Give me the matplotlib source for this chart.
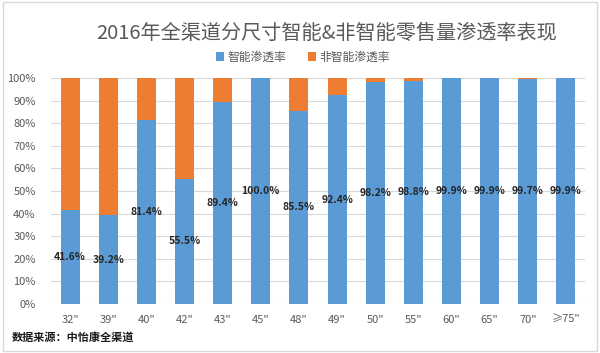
import matplotlib.pyplot as plt
import numpy as np
from matplotlib.patches import Rectangle

plt.rcParams['font.family'] = ['Noto Sans CJK SC', 'DejaVu Sans']

sizes = ['32"', '39"', '40"', '42"', '43"', '45"', '48"', '49"', '50"', '55"', '60"', '65"', '70"', '≥75"']
smart = [41.6, 39.2, 81.4, 55.5, 89.4, 100.0, 85.5, 92.4, 98.2, 98.8, 99.9, 99.9, 99.7, 99.9]
non_smart = [100 - v for v in smart]

blue = '#5B9BD5'
orange = '#ED7D31'

fig = plt.figure(figsize=(6, 3.53), dpi=100)
ax = fig.add_axes([51 / 600, 1 - 304 / 353, 534 / 600, 226 / 353])

x = np.arange(len(sizes))
ax.bar(x, smart, width=0.5, color=blue, label='智能渗透率', zorder=3)
ax.bar(x, non_smart, width=0.5, bottom=smart, color=orange, label='非智能渗透率', zorder=3)

for xi, v in zip(x, smart):
    ax.text(xi, v / 2, '%.1f%%' % v, ha='center', va='center',
            fontsize=7.5, fontweight='bold', color='#262626', zorder=4)

ax.set_xlim(-0.5, len(sizes) - 0.5)
ax.set_ylim(0, 100)
ax.set_yticks(np.arange(0, 101, 10))
ax.set_yticklabels(['%d%%' % t for t in range(0, 101, 10)])
ax.set_xticks(x)
ax.set_xticklabels(sizes)
ax.tick_params(axis='both', length=0, labelsize=8, colors='#595959')
ax.tick_params(axis='y', pad=11)
ax.tick_params(axis='x', pad=8)
ax.grid(axis='y', color='#D9D9D9', linewidth=0.8, zorder=0)
for s in ax.spines.values():
    s.set_visible(False)

fig.text(327 / 600, 1 - 33 / 353, '2016年全渠道分尺寸智能&非智能零售量渗透率表现',
         ha='center', va='center', fontsize=14.5, color='#595959')
fig.legend(loc='center', bbox_to_anchor=(303 / 600, 1 - 57 / 353), ncol=2,
           frameon=False, fontsize=8.5, handlelength=0.7, handleheight=0.7,
           handletextpad=0.3, columnspacing=1.8, labelcolor='#595959')
fig.text(12 / 600, 1 - 337 / 353, '数据来源：中怡康全渠道', ha='left', va='center',
         fontsize=8, fontweight='bold', color='#1a1a1a')

fig.patches.append(Rectangle((0.005, 0.005), 0.99, 0.99, transform=fig.transFigure,
                             fill=False, edgecolor='#D9D9D9', linewidth=1))

fig.savefig('out.png', dpi=100, facecolor='white')
